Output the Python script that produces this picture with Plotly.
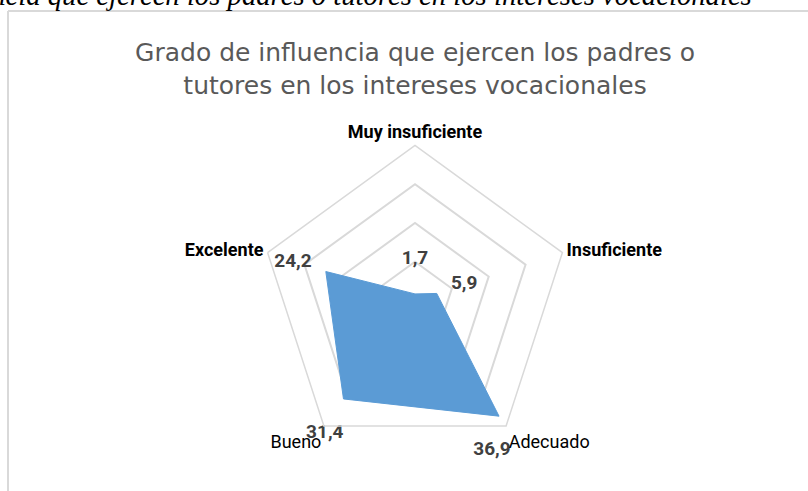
import plotly.graph_objects as go

categories = ["Muy insuficiente", "Insuficiente", "Adecuado", "Bueno", "Excelente"]
values = [1.7, 5.9, 36.9, 31.4, 24.2]
value_labels = ["1,7<br> ", "\u00a0\u00a0\u00a05,9", "<br>36,9\u00a0\u00a0\u00a0", "<br>31,4", "24,2\u00a0\u00a0\u00a0"]
tick_labels = ["<b>Muy insuficiente</b>", "<b>Insuficiente</b>", "Adecuado", "Bueno", "<b>Excelente</b>"]
label_positions = ["top center", "top right", "bottom center", "bottom left", "top left"]

W, H = 808, 491
cx, cy, R = 415, 300.5, 155

fig = go.Figure()
fig.add_trace(go.Scatterpolar(
    r=values + [values[0]],
    theta=categories + [categories[0]],
    mode="lines",
    fill="toself",
    fillcolor="#5B9BD5",
    line=dict(color="#5B9BD5", width=1),
    hoverinfo="skip",
    showlegend=False,
))
fig.add_trace(go.Scatterpolar(
    r=values,
    theta=categories,
    mode="text",
    text=value_labels,
    textposition=label_positions,
    textfont=dict(family="Roboto", size=19, color="#404040", weight="bold"),
    cliponaxis=False,
    showlegend=False,
    hoverinfo="skip",
))

fig.update_layout(
    width=W, height=H,
    margin=dict(l=0, r=0, t=0, b=0),
    paper_bgcolor="white",
    plot_bgcolor="white",
    title=dict(
        text="Grado de influencia que ejercen los padres o<br>tutores en los intereses vocacionales",
        x=cx / W, xanchor="center",
        y=1 - 61 / H, yanchor="top",
        font=dict(family="DejaVu Sans", size=25, color="#595959"),
    ),
    polar=dict(
        domain=dict(x=[(cx - R) / W, (cx + R) / W], y=[(H - cy - R) / H, (H - cy + R) / H]),
        gridshape="linear",
        bgcolor="white",
        radialaxis=dict(
            range=[0, 40], dtick=10, showticklabels=False, ticks="",
            showline=False, gridcolor="#D9D9D9", gridwidth=1.5,
        ),
        angularaxis=dict(
            rotation=90, direction="clockwise",
            tickvals=categories, ticktext=tick_labels,
            showgrid=False, ticks="", showline=True,
            linecolor="#D9D9D9", linewidth=1.5,
            tickfont=dict(family="Roboto", size=18, color="#000000"),
        ),
    ),
    shapes=[
        dict(type="line", xref="paper", yref="paper", x0=8 / W, x1=1, y0=1 - 11 / H, y1=1 - 11 / H,
             line=dict(color="#D9D9D9", width=2)),
        dict(type="line", xref="paper", yref="paper", x0=8 / W, x1=8 / W, y0=0, y1=1 - 11 / H,
             line=dict(color="#D9D9D9", width=2)),
    ],
    annotations=[
        dict(
            text="<i>Figura 5. Grado de influencia que ejercen los padres o tutores en los intereses vocacionales</i>",
            xref="paper", yref="paper", x=754 / W, xanchor="right",
            y=1 + 5 / H, yanchor="middle", showarrow=False,
            font=dict(family="Liberation Serif", size=28.7, color="#000000"),
        )
    ],
)

fig.write_html(
    "out.html",
    config={"displayModeBar": False},
    post_script="document.body.style.margin='0';document.body.style.overflow='hidden';",
)
